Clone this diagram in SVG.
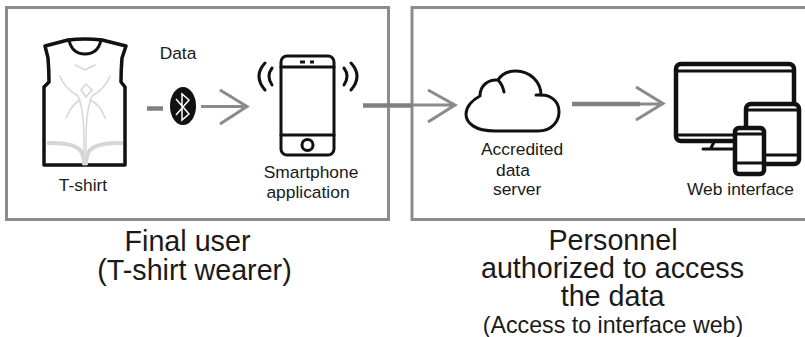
<svg xmlns="http://www.w3.org/2000/svg" width="805" height="337" viewBox="0 0 805 337">
<style>
text{font-family:"Liberation Sans",Arial,sans-serif;fill:#1a1a1a}
.s{font-size:17.400px}
.b{font-size:28.700px}
.box{fill:none;stroke:#8c8c8c;stroke-width:3}
.k{fill:none;stroke:#111;stroke-width:3;stroke-linecap:round;stroke-linejoin:round}
.m{fill:#fff;stroke:#111;stroke-width:4.500;stroke-linecap:round;stroke-linejoin:round}
.g{fill:none;stroke:#d6d6d6;stroke-width:1.500;stroke-linecap:round}
.c{fill:none;stroke:#808080;stroke-width:4.500}
.h{fill:none;stroke:#8a8a8a;stroke-width:3}
</style>
<rect width="805" height="337" fill="#fff"/>
<rect class="box" x="6.500" y="7.500" width="382" height="212"/>
<path class="box" d="M805 7.500H412V219.500H805"/>
<g id="tshirt">
<path class="k" style="stroke-width:3.500" d="M68 40L45 46L48 58C49 70 49 76 49 82L44 87V165H125V87L121 82C121 76 121 70 122 58L126 46L102 40Q85 38 68 40Z"/>
<path class="k" d="M69 40Q72 54 85 54Q98 54 101 40"/>
<path class="g" d="M60 76Q64 88 78 96Q84 110 84 140V165M110 76Q106 88 92 96Q86 110 86 140V165M86 84L92 90L86 97L81 90ZM66 118Q72 104 80 100M105 118Q100 104 90 100M75 65Q82 68 85 70Q88 68 95 65"/>
<path d="M47 143Q72 142 80 150Q84 155 84 165M123 143Q98 142 90 150Q86 155 86 165" fill="none" stroke="#d6d6d6" stroke-width="4"/>
<text class="s" x="83" y="191" text-anchor="middle">T-shirt</text>
</g>
<g id="bluetooth">
<ellipse cx="183" cy="106" rx="13" ry="19" fill="#111"/>
<path d="M176 99L189 114L182 120V94L189 100L176 115" fill="none" stroke="#fff" stroke-width="1.500"/>
<text class="s" x="178" y="59" text-anchor="middle">Data</text>
</g>
<g id="smartphone">
<rect class="k" x="281" y="56" width="53" height="99" rx="6"/>
<path class="k" d="M281 67H334M281 135H334"/>
<path d="M300 62H305M310 62H314" stroke="#111" stroke-width="3" fill="none"/>
<circle cx="307.500" cy="145" r="5.500" fill="none" stroke="#111" stroke-width="3"/>
<path class="k" d="M265 63Q253 76 265 90M272 68Q266 76 272 85M351 63Q363 76 351 90M344 68Q350 76 344 85"/>
<text class="s" x="311" y="178" text-anchor="middle">Smartphone</text>
<text class="s" x="308" y="198" text-anchor="middle">application</text>
</g>
<g id="cloud">
<path class="k" d="M495 131H538C553 131 559 120 559 112C559 102 552 95 541 95C541 82 530 71 516 71C507 71 501 75 498 80C489 79 480 85 480 96C472 100 466 107 466 114C466 123 475 131 495 131Z"/>
<path class="k" d="M498 80C501 83 503 87 504 92M541 95H536"/>
<text class="s" x="481" y="155">Accredited</text>
<text class="s" x="496" y="176">data</text>
<text class="s" x="493" y="195">server</text>
</g>
<g id="devices">
<rect class="m" x="676" y="64" width="118" height="77" rx="5"/>
<path class="k" d="M676 71H794M676 135H794"/>
<path class="k" d="M703 149H735M714 142L711 148"/>
<rect class="m" x="746" y="104" width="53" height="60" rx="5"/>
<path class="k" d="M746 110H799M746 155H799"/>
<rect class="m" x="735" y="128" width="29" height="46" rx="4"/>
<path class="k" d="M735 134H764M735 163H764"/>
<text class="s" x="687" y="195">Web interface</text>
</g>
<g id="connectors">
<path class="c" d="M147 108.500H163"/>
<path class="h" d="M201 106.500H247M220 90L247 106.500L220 124"/>
<path class="c" d="M363 105.500H412"/>
<path class="h" d="M412 105H455M428 90L455 105L428 122"/>
<path class="c" d="M572 104H640"/>
<path class="h" d="M640 104H663M636 87L663 103.500L636 120"/>
</g>
<g id="labels">
<text class="b" x="187.500" y="251" text-anchor="middle">Final user</text>
<text class="b" x="194.500" y="280" text-anchor="middle">(T-shirt wearer)</text>
<text class="b" x="613" y="250" text-anchor="middle">Personnel</text>
<text class="b" x="612.500" y="278" text-anchor="middle">authorized to access</text>
<text class="b" x="612.500" y="306" text-anchor="middle">the data</text>
<text x="613" y="333" text-anchor="middle" style="font-size:23.200px">(Access to interface web)</text>
</g>
</svg>
